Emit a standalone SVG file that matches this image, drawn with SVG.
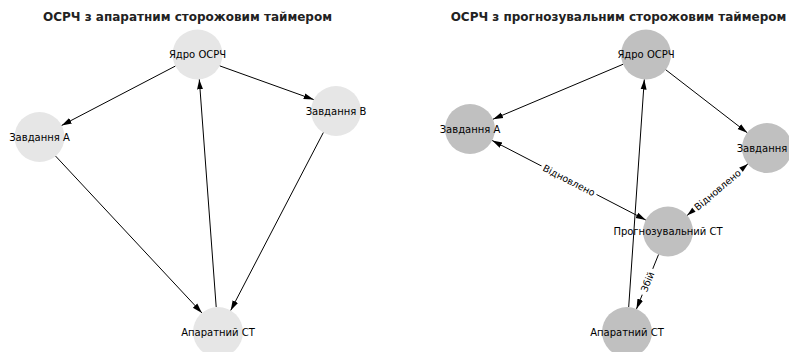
<svg xmlns="http://www.w3.org/2000/svg" width="789" height="352" viewBox="0 0 789 352">
<style>
.title{font-family:"DejaVu Sans",sans-serif;font-weight:bold;font-size:12px;fill:#222;text-anchor:middle}
.lbl{font-family:"DejaVu Sans",sans-serif;font-size:10px;fill:#000;text-anchor:middle;dominant-baseline:central}
.elbl{font-family:"DejaVu Sans",sans-serif;font-size:9.5px;fill:#000;text-anchor:middle;dominant-baseline:central}
.n1{fill:#e6e6e6}
.n2{fill:#c0c0c0}
.e{stroke:#000;stroke-width:1;fill:none;marker-end:url(#ah)}
.eb{stroke:#000;stroke-width:1;fill:none;marker-end:url(#ah);marker-start:url(#ah)}
.bg{fill:#fff}
</style>
<defs>
<marker id="ah" markerUnits="userSpaceOnUse" markerWidth="10" markerHeight="8" viewBox="0 0 10 8" refX="10" refY="4" orient="auto-start-reverse">
<path d="M0,1 L10,4 L0,7 z" fill="#000"/>
</marker>
</defs>
<rect width="789" height="352" fill="#fff"/>
<text class="title" x="187.5" y="21">ОСРЧ з апаратним сторожовим таймером</text>
<text class="title" x="618.5" y="21">ОСРЧ з прогнозувальним сторожовим таймером</text>

<g id="left-nodes">
<g id="l-core"><circle class="n1" cx="197.5" cy="54.5" r="25"/><text class="lbl" x="197.5" y="54.5">Ядро ОСРЧ</text></g>
<g id="l-taskA"><circle class="n1" cx="39.5" cy="137" r="25"/><text class="lbl" x="39.5" y="137">Завдання А</text></g>
<g id="l-taskB"><circle class="n1" cx="336" cy="111" r="25"/><text class="lbl" x="336" y="111">Завдання В</text></g>
<g id="l-hw"><circle class="n1" cx="218" cy="332" r="25"/><text class="lbl" x="218" y="332">Апаратний СТ</text></g>
</g>

<g id="right-nodes">
<g id="r-core"><circle class="n2" cx="646" cy="54.5" r="25"/><text class="lbl" x="646" y="54.5">Ядро ОСРЧ</text></g>
<g id="r-taskA"><circle class="n2" cx="470" cy="129" r="25"/><text class="lbl" x="470" y="129">Завдання А</text></g>
<g id="r-taskB"><circle class="n2" cx="767" cy="148" r="25"/><text class="lbl" x="767" y="148">Завдання В</text></g>
<g id="r-pred"><circle class="n2" cx="668" cy="231.5" r="25"/><text class="lbl" x="668" y="231.5">Прогнозувальний СТ</text></g>
<g id="r-hw"><circle class="n2" cx="627" cy="332" r="25"/><text class="lbl" x="627" y="332">Апаратний СТ</text></g>
</g>

<g id="connectors">
<line class="e" x1="175.3" y1="66.1" x2="61.7" y2="125.4"/>
<line class="e" x1="219.8" y1="65.9" x2="313.7" y2="99.6"/>
<line class="e" x1="55.6" y1="156.1" x2="201.9" y2="312.9"/>
<line class="e" x1="323.3" y1="132.6" x2="230.7" y2="310.4"/>
<line class="e" x1="216.2" y1="307" x2="199.3" y2="79.4"/>

<line class="e" x1="623" y1="64.3" x2="493" y2="119.2"/>
<line class="e" x1="665.8" y1="69.8" x2="747.2" y2="132.7"/>
<line class="e" x1="628.7" y1="307" x2="644.3" y2="79.5"/>
<line class="eb" x1="645.8" y1="220" x2="492.2" y2="140.5"/>
<line class="eb" x1="687.1" y1="215.4" x2="747.9" y2="163.9"/>
<line class="e" x1="658.5" y1="254.6" x2="636.5" y2="308.9"/>

<g transform="translate(569,180.25) rotate(27.4)"><rect class="bg" x="-31" y="-7" width="62" height="14"/><text class="elbl" x="0" y="0">Відновлено</text></g>
<g transform="translate(717.5,189.75) rotate(-40.1)"><rect class="bg" x="-31" y="-7" width="62" height="14"/><text class="elbl" x="0" y="0">Відновлено</text></g>
<g transform="translate(647.5,281.75) rotate(-67.8)"><rect class="bg" x="-14" y="-7" width="28" height="14"/><text class="elbl" x="0" y="0">Збій</text></g>
</g>
</svg>
